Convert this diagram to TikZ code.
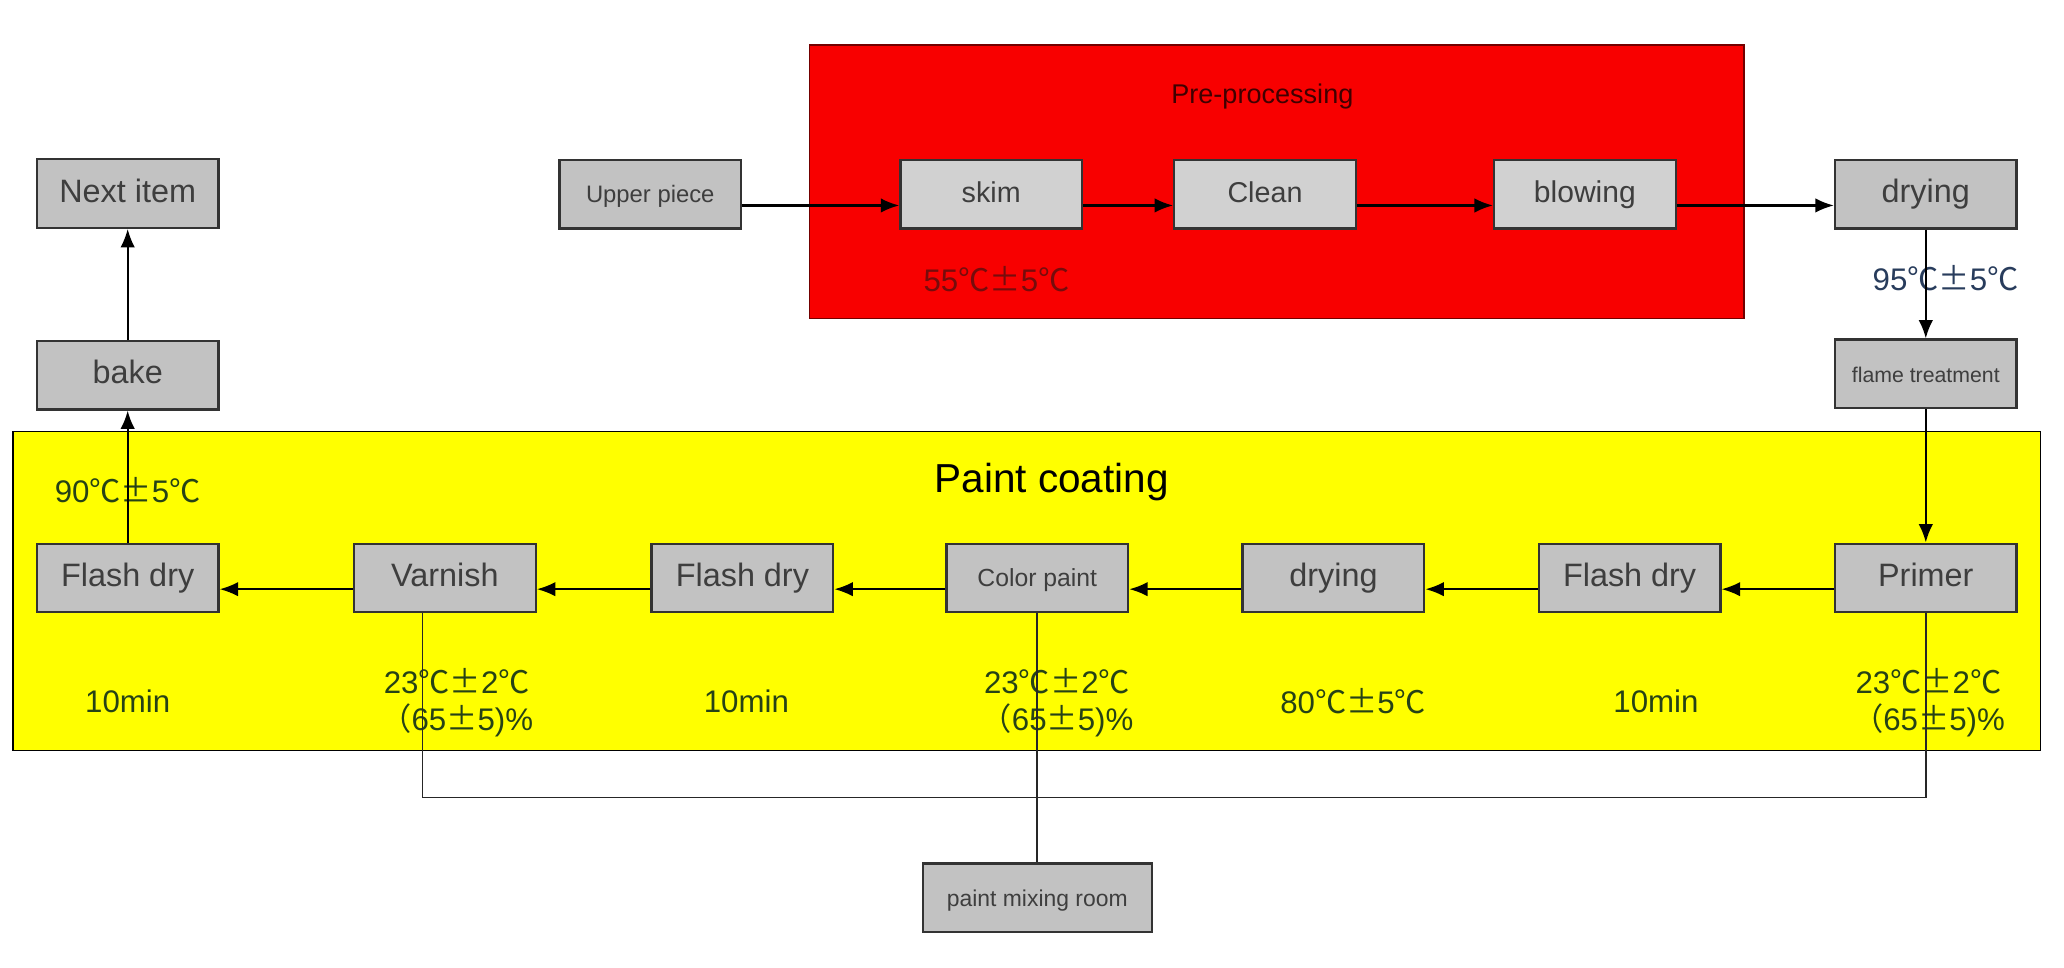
\documentclass[tikz,border=0pt]{standalone}
\usepackage{fontspec}
\setmainfont{Liberation Sans}
\newfontfamily\cjk{Noto Sans CJK SC}
\usetikzlibrary{arrows.meta}
\newcommand{\dC}{{\cjk ℃}}
\newcommand{\pmc}{{\cjk ±}}
\definecolor{boxgray}{RGB}{194,194,194}
\definecolor{boxtext}{RGB}{62,62,62}
\definecolor{prered}{RGB}{248,0,0}
\definecolor{coatyellow}{RGB}{255,255,0}
\definecolor{tempgreen}{RGB}{38,66,22}
\definecolor{tempblue}{RGB}{40,60,92}
\definecolor{tempred}{RGB}{118,12,12}
\tikzset{
  proc/.style={draw=black!80,line width=1pt,fill=boxgray,text=boxtext,
    minimum width=27.6mm,minimum height=10.4mm,inner sep=0pt,
    text height=0.95em,text depth=0.2em,
    font=\fontsize{14}{16}\selectfont},
  flow/.style={-{Latex[length=2.8mm,width=2.2mm]},line width=0.9pt,black},
  pipe/.style={line width=0.8pt,black!85},
  temp/.style={text=tempgreen,align=center,font=\fontsize{13.5}{16}\selectfont},
}
\begin{document}
\begin{tikzpicture}[x=0.2mm,y=-0.2mm]
    \useasboundingbox (0,0) rectangle (1568,735);
    \fill[white] (0,0) rectangle (1568,735);
    % the two stages
    \draw[fill=prered,draw=red!45!black,line width=0.8pt] (615,34) rectangle (1325,242);
    \draw[fill=coatyellow,draw=black,line width=0.6pt] (10,328) rectangle (1550,570);
    \node[font=\fontsize{11.7}{14}\selectfont,text=black!75!red] (pre) at (959,73) {Pre-processing};
    \node[font=\fontsize{17.5}{20}\selectfont] (coat) at (799,366) {Paint coating};

    % pre-processing line
    \node[proc,font=\fontsize{10.3}{12}\selectfont] (up) at (494,147.5) {Upper piece};
    \node[proc,fill=black!18,font=\fontsize{12.4}{14}\selectfont] (sk) at (753,147.5) {skim};
    \node[proc,fill=black!18,font=\fontsize{12.4}{14}\selectfont] (cl) at (961,147.5) {Clean};
    \node[proc,fill=black!18,font=\fontsize{13}{15}\selectfont] (bl) at (1204,147.5) {blowing};
    \node[proc] (dr) at (1463,147.5) {drying};
    \node[proc,font=\fontsize{9.2}{11}\selectfont] (ft) at (1463,284) {flame treatment};

    % coating line
    \node[proc] (pr) at (1463,439) {Primer};
    \node[proc] (fd3) at (1238,439) {Flash dry};
    \node[proc] (dy) at (1013,439) {drying};
    \node[proc,font=\fontsize{10.7}{12}\selectfont] (cp) at (788,439) {Color paint};
    \node[proc] (fd2) at (564,439) {Flash dry};
    \node[proc] (va) at (338,439) {Varnish};
    \node[proc] (fd1) at (97,439) {Flash dry};
    \node[proc] (bk) at (97,285) {bake};
    \node[proc] (nx) at (97,147) {Next item};
    \node[proc,minimum width=34.8mm,font=\fontsize{9.9}{12}\selectfont] (pm) at (788,682) {paint mixing room};

    % conditions
    \node[temp,text=tempred] (t55) at (757,212) {55\dC\pmc5\dC};
    \node[temp,text=tempblue] (t95) at (1478,211) {95\dC\pmc5\dC};
    \node[temp] (t90) at (97,372) {90\dC\pmc5\dC};
    \node[temp] (m1) at (97,533) {10min};
    \node[temp] (h1) at (347,534) {23\dC\pmc2\dC\\{\cjk （}65\pmc5)\%};
    \node[temp] (m2) at (567,533) {10min};
    \node[temp] (h2) at (803,534) {23\dC\pmc2\dC\\{\cjk （}65\pmc5)\%};
    \node[temp] (t80) at (1028,533) {80\dC\pmc5\dC};
    \node[temp] (m3) at (1258,533) {10min};
    \node[temp] (h3) at (1465,534) {23\dC\pmc2\dC\\{\cjk （}65\pmc5)\%};

    % flow
    \draw[flow] (up.-7) -- (sk.187);
    \draw[flow] (sk.-7) -- (cl.187);
    \draw[flow] (cl.-7) -- (bl.187);
    \draw[flow] (bl.-7) -- (dr.187);
    \draw[flow] (dr) -- (ft);
    \draw[flow] (ft) -- (pr);
    \draw[flow] (pr.187) -- (fd3.-7);
    \draw[flow] (fd3.187) -- (dy.-7);
    \draw[flow] (dy.187) -- (cp.-7);
    \draw[flow] (cp.187) -- (fd2.-7);
    \draw[flow] (fd2.187) -- (va.-7);
    \draw[flow] (va.187) -- (fd1.-7);
    \draw[flow] (fd1) -- (bk);
    \draw[flow] (bk) -- (nx);

    % paint supply
    \draw[pipe] ([xshift=-3.4mm]va.south) -- ++(0,140) -| (pr.south);
    \draw[pipe] (cp.south) -- (pm.north);
\end{tikzpicture}
\end{document}
